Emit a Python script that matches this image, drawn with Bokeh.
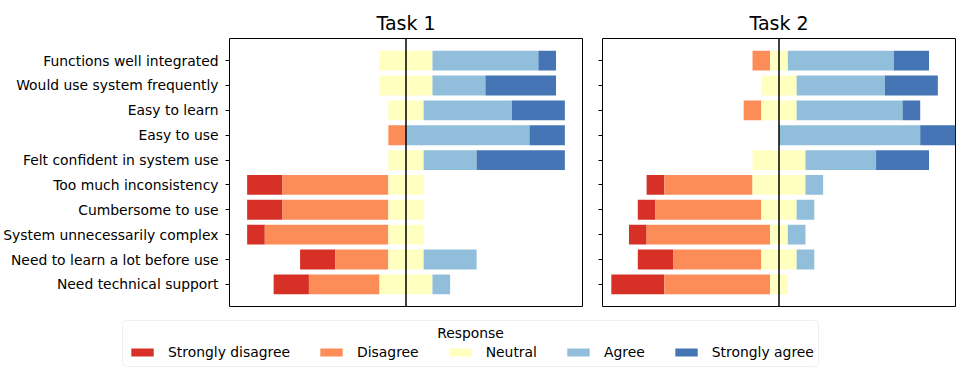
import numpy as np
from bokeh.plotting import figure
from bokeh.models import (Range1d, FixedTicker, Span, Legend, LegendItem,
                          BoxAnnotation, Label)
from bokeh.layouts import row, column
from bokeh.embed import file_html
from bokeh.resources import INLINE

# ---------------- data ----------------
questions = [
    "Functions well integrated",
    "Would use system frequently",
    "Easy to learn",
    "Easy to use",
    "Felt confident in system use",
    "Too much inconsistency",
    "Cumbersome to use",
    "System unnecessarily complex",
    "Need to learn a lot before use",
    "Need technical support",
]
responses = ["Strongly disagree", "Disagree", "Neutral", "Agree", "Strongly agree"]
colors = ["#d73027", "#fc8d59", "#ffffbf", "#91bfdb", "#4575b4"]

task1_strongly_disagree = [0, 0, 0, 0, 0, 2, 2, 1, 2, 2]
task1_disagree          = [0, 0, 0, 1, 0, 6, 6, 7, 3, 4]
task1_neutral           = [3, 3, 2, 0, 2, 2, 2, 2, 2, 3]
task1_agree             = [6, 3, 5, 7, 3, 0, 0, 0, 3, 1]
task1_strongly_agree    = [1, 4, 3, 2, 5, 0, 0, 0, 0, 0]

task2_strongly_disagree = [0, 0, 0, 0, 0, 1, 1, 1, 2, 3]
task2_disagree          = [1, 0, 1, 0, 0, 5, 6, 7, 5, 6]
task2_neutral           = [1, 2, 2, 0, 3, 3, 2, 1, 2, 1]
task2_agree             = [6, 5, 6, 8, 4, 1, 1, 1, 1, 0]
task2_strongly_agree    = [2, 3, 1, 2, 3, 0, 0, 0, 0, 0]

FONT = "DejaVu Sans"
LABEL_SIZE = "13.9px"


def make_panel(title, counts, show_labels, border_left, border_right):
    sd, d, n, a, sa = [np.array(c, dtype=float) for c in counts]
    nq = len(questions)
    ypos = np.arange(nq)[::-1].astype(float)
    bar_h = 0.8
    pad = 0.05 * (nq - 1 + bar_h)
    half_n = n / 2.0
    segs = [
        (-half_n - d - sd, -half_n - d),
        (-half_n - d, -half_n),
        (-half_n, half_n),
        (half_n, half_n + a),
        (half_n + a, half_n + a + sa),
    ]
    p = figure(frame_width=353, frame_height=268,
               x_range=Range1d(-10, 10),
               y_range=Range1d(-bar_h / 2 - pad, nq - 1 + bar_h / 2 + pad),
               output_backend="svg", toolbar_location=None,
               min_border_top=38, min_border_bottom=8,
               min_border_left=border_left, min_border_right=border_right)
    for (l, r), c in zip(segs, colors):
        p.hbar(y=ypos, left=l, right=r, height=bar_h,
               fill_color=c, line_color=None)
    p.add_layout(Span(location=0, dimension="height", line_color="black",
                      line_width=1.5))
    p.xaxis.visible = False
    p.xgrid.visible = False
    p.ygrid.visible = False
    p.outline_line_color = "black"
    p.outline_line_width = 1
    p.outline_line_alpha = 1
    ax = p.yaxis[0]
    ax.ticker = FixedTicker(ticks=list(ypos))
    if show_labels:
        ax.major_label_overrides = {float(y): q for y, q in zip(ypos, questions)}
    else:
        ax.major_label_overrides = {float(y): "" for y in ypos}
    ax.major_label_text_font = FONT
    ax.major_label_text_font_size = LABEL_SIZE
    ax.major_label_text_color = "black"
    ax.major_label_standoff = 7
    ax.major_tick_out = 4
    ax.major_tick_in = 0
    ax.major_tick_line_color = "black"
    ax.minor_tick_line_color = None
    ax.axis_line_color = None
    p.title.text = title
    p.title.align = "center"
    p.title.text_font = FONT
    p.title.text_font_size = "19px"
    p.title.text_font_style = "normal"
    p.title.text_color = "black"
    return p


p1 = make_panel("Task 1",
                [task1_strongly_disagree, task1_disagree, task1_neutral,
                 task1_agree, task1_strongly_agree],
                True, 229, 2)
p2 = make_panel("Task 2",
                [task2_strongly_disagree, task2_disagree, task2_neutral,
                 task2_agree, task2_strongly_agree],
                False, 18, 5)

# ---------------- legend figure ----------------
LW, LH = 960, 60
pl = figure(width=LW, height=LH, x_range=Range1d(0, LW), y_range=Range1d(0, LH),
            output_backend="svg", toolbar_location=None,
            min_border=0, min_border_left=0, min_border_right=0,
            min_border_top=0, min_border_bottom=0)
pl.axis.visible = False
pl.grid.visible = False
pl.outline_line_color = None

pl.add_layout(BoxAnnotation(left=122, right=818, bottom=8, top=54,
                            fill_color="white", fill_alpha=0.8,
                            line_color="#cccccc", line_width=1,
                            border_radius=4, level="underlay"))
pl.add_layout(Label(x=470, y=42, text="Response", text_align="center",
                    text_baseline="middle", text_font=FONT,
                    text_font_size=LABEL_SIZE, text_color="black"))

items = []
for resp, c in zip(responses, colors):
    # legend proxy: a single hidden (NaN) row so the swatch gets its colour
    r = pl.hbar(y=[np.nan], left=[np.nan], right=[np.nan], height=1,
                fill_color=c, line_color=None)
    items.append(LegendItem(label=resp, renderers=[r]))
leg = Legend(items=items, orientation="horizontal", location=(128, 14),
             glyph_width=28, glyph_height=10, label_standoff=12, spacing=27,
             label_height=16, padding=0, margin=0,
             border_line_color=None, background_fill_alpha=0,
             label_text_font=FONT, label_text_font_size=LABEL_SIZE,
             label_text_color="black")
pl.add_layout(leg, "center")

layout = column(row(p1, p2), pl)
open("out.html", "w").write(file_html(layout, INLINE))
